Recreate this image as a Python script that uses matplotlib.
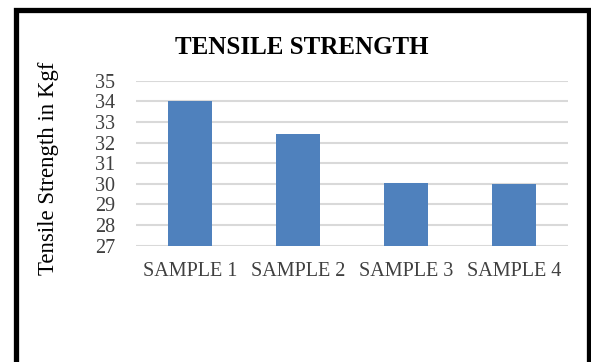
import matplotlib
matplotlib.use("Agg")
import matplotlib.pyplot as plt
from matplotlib.patches import Rectangle

# Data
samples = ["SAMPLE 1", "SAMPLE 2", "SAMPLE 3", "SAMPLE 4"]
strength = [34.0, 32.4, 30.05, 30.0]
y_ticks = [27, 28, 29, 30, 31, 32, 33, 34, 35]

W, H = 591, 362
plt.rcParams["font.family"] = ["Liberation Serif", "DejaVu Serif"]

fig = plt.figure(figsize=(W / 100, H / 100), dpi=100)
fig.patch.set_facecolor("white")

# Outer black frame
frame = Rectangle((15.5 / W, -0.05), (589 - 15.5) / W, 1.05 - 10.5 / H,
                  transform=fig.transFigure, fill=False, edgecolor="black",
                  linewidth=3.8, zorder=10)
fig.patches.append(frame)

ax = fig.add_axes([136 / W, 1 - 245.7 / H, 432 / W, 165 / H])
x = range(len(samples))
ax.bar(x, strength, width=0.4, color="#4f81bd", zorder=3)
ax.set_xlim(-0.5, len(samples) - 0.5)
ax.set_ylim(27, 35)
ax.set_yticks(y_ticks)
ax.set_yticklabels([str(v) for v in y_ticks], fontsize=14.5, color="#404040")
ax.set_xticks(list(x))
ax.set_xticklabels(samples, fontsize=14.5, color="#404040")
ax.tick_params(axis="both", length=0)
ax.tick_params(axis="y", pad=15)
ax.tick_params(axis="x", pad=12)
for s in ax.spines.values():
    s.set_visible(False)
ax.grid(axis="y", color="#d9d9d9", linewidth=1.5, zorder=0)
ax.set_axisbelow(True)

fig.text(302 / W, 1 - 47 / H, "TENSILE STRENGTH", fontsize=18,
         fontweight="bold", ha="center", va="center", color="black")
fig.text(49 / W, 1 - 168 / H, "Tensile Strength in Kgf", fontsize=16.5,
         rotation=90, ha="center", va="center", color="black")

fig.savefig("out.png", dpi=100, facecolor="white")
